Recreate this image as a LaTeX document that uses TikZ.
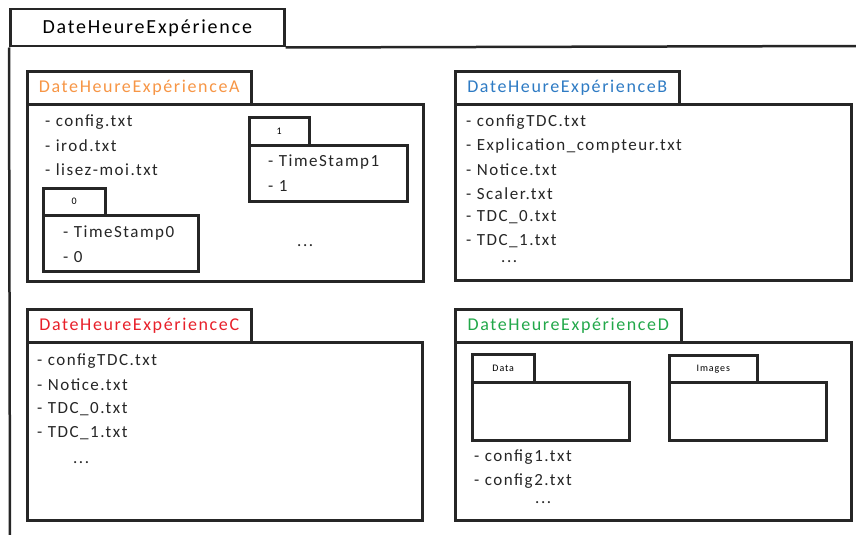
\documentclass[tikz,border=0pt]{standalone}
\usepackage{fontspec}
\setmainfont[LetterSpace=9]{Carlito}
\usepackage{xcolor}
\usetikzlibrary{positioning}
\definecolor{orangeA}{HTML}{F79646}
\definecolor{blueB}{HTML}{2E7BC4}
\definecolor{redC}{HTML}{E8202A}
\definecolor{greenD}{HTML}{22A84A}

\begin{document}
\begin{tikzpicture}[x=1pt, y=-1pt,
    box/.style={draw=black!85, line width=2.5pt, fill=white, anchor=north west, inner sep=0pt},
    pkgname/.style={box, minimum width=224pt, minimum height=33pt, font=\fontsize{18}{20}\selectfont},
    pkgbody/.style={box, minimum width=396pt, minimum height=177pt},
    smalltab/.style={box, minimum height=27pt, font=\fontsize{10}{12}\selectfont},
    folder/.style={box, minimum width=156pt, minimum height=57pt},
    item/.style={anchor=west, inner sep=0pt, font=\fontsize{17}{20}\selectfont, text=black!85}
]
    \useasboundingbox (0,0) rectangle (856,535);

    % outer folder
    \node[box, minimum width=274pt, minimum height=37pt, font=\fontsize{20}{22}\selectfont] (root) at (9,8) {DateHeureExpérience};
    \coordinate (rootend) at (858,46);
    \coordinate (rootfoot) at (10,537);
    \draw[black!85, line width=2.5pt] (root.south east) -- (rootend);
    \draw[black!85, line width=2.5pt] (root.south west) -- (rootfoot);

    % A
    \node[pkgbody] (bodyA) at (26,103) {};
    \node[pkgname, text=orangeA] (nameA) at (26,70) {DateHeureExpérienceA};
    \node[item] (a1) at (45,122) {- config.txt};
    \node[item] (a2) at (45,146) {- irod.txt};
    \node[item] (a3) at (45,170) {- lisez-moi.txt};
    \node[folder, minimum width=155pt, minimum height=56pt] (bodyT0) at (42,214) {};
    \node[smalltab, minimum width=62pt] (tabT0) at (42,187) {0};
    \node[item] (t0a) at (63,233) {- TimeStamp0};
    \node[item] (t0b) at (63,257) {- 0};
    \node[folder, minimum width=158pt, minimum height=56pt] (bodyT1) at (248,144) {};
    \node[smalltab, minimum width=60pt, minimum height=28pt] (tabT1) at (248,116) {1};
    \node[item] (t1a) at (268,162) {- TimeStamp1};
    \node[item] (t1b) at (268,186) {- 1};
    \node[item] (adots) at (297,246) {...};

    % B
    \node[pkgbody, minimum height=176pt] (bodyB) at (454,103) {};
    \node[pkgname, text=blueB] (nameB) at (454,70) {DateHeureExpérienceB};
    \node[item] (b1) at (466,122) {- configTDC.txt};
    \node[item] (b2) at (466,146) {- Explication\_compteur.txt};
    \node[item] (b3) at (466,170) {- Notice.txt};
    \node[item] (b4) at (466,194) {- Scaler.txt};
    \node[item] (b5) at (466,217) {- TDC\_0.txt};
    \node[item] (b6) at (466,241) {- TDC\_1.txt};
    \node[item] (bdots) at (501,262) {...};

    % C
    \node[pkgbody, minimum width=395pt, minimum height=178pt] (bodyC) at (26,341) {};
    \node[pkgname, text=redC] (nameC) at (26,308) {DateHeureExpérienceC};
    \node[item] (c1) at (37,361) {- configTDC.txt};
    \node[item] (c2) at (37,385) {- Notice.txt};
    \node[item] (c3) at (37,409) {- TDC\_0.txt};
    \node[item] (c4) at (37,433) {- TDC\_1.txt};
    \node[item] (cdots) at (73,463) {...};

    % D
    \node[pkgbody, minimum height=178pt] (bodyD) at (454,341) {};
    \node[pkgname, minimum width=226pt, text=greenD] (nameD) at (454,308) {DateHeureExpérienceD};
    \node[folder, minimum width=157pt, minimum height=58pt] (bodyData) at (471,381) {};
    \node[smalltab, minimum width=62pt, minimum height=28pt] (tabData) at (471,353) {Data};
    \node[folder, minimum width=157pt, minimum height=58pt] (bodyImg) at (668,381) {};
    \node[smalltab, minimum width=88pt] (tabImg) at (668,354) {Images};
    \node[item] (d1) at (474,457) {- config1.txt};
    \node[item] (d2) at (474,481) {- config2.txt};
    \node[item] (ddots) at (535,503) {...};
\end{tikzpicture}
\end{document}
